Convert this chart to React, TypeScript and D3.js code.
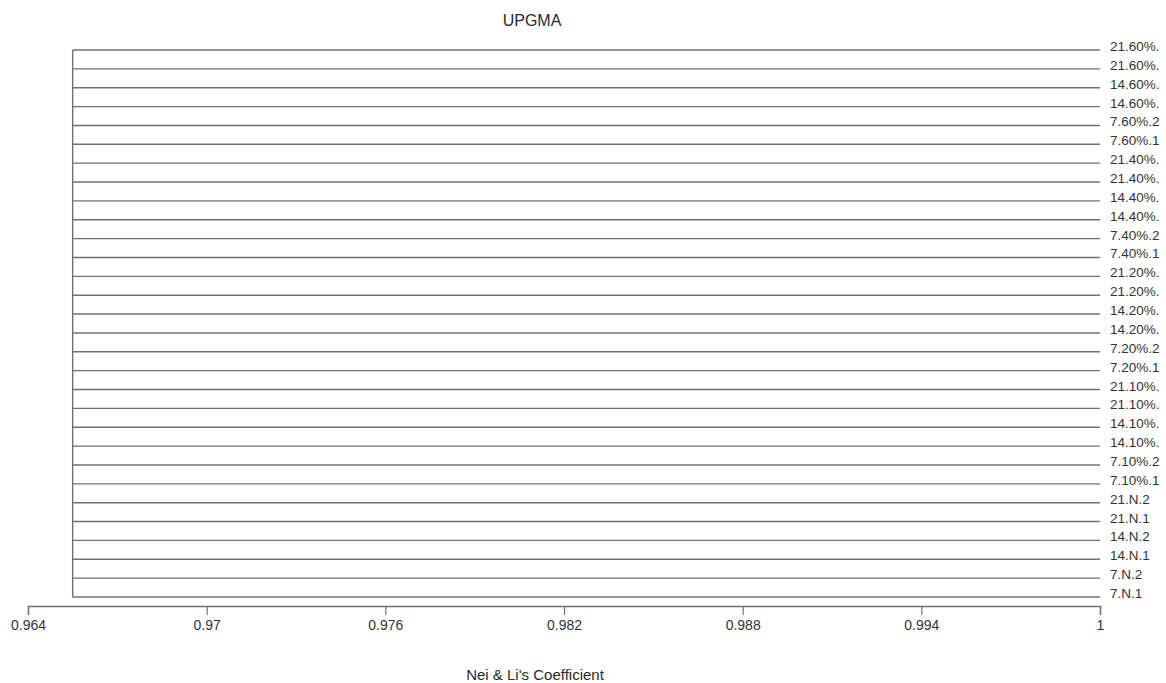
import React, { useEffect, useRef } from "react";
import * as d3 from "d3";

// leaves from top to bottom, all joined at one node
const leaves = [
  "21.60%.", "21.60%.", "14.60%.", "14.60%.", "7.60%.2", "7.60%.1",
  "21.40%.", "21.40%.", "14.40%.", "14.40%.", "7.40%.2", "7.40%.1",
  "21.20%.", "21.20%.", "14.20%.", "14.20%.", "7.20%.2", "7.20%.1",
  "21.10%.", "21.10%.", "14.10%.", "14.10%.", "7.10%.2", "7.10%.1",
  "21.N.2", "21.N.1", "14.N.2", "14.N.1", "7.N.2", "7.N.1",
];
const leafValue = 1;
const joinValue = 0.9655;
const xTicks = [0.964, 0.97, 0.976, 0.982, 0.988, 0.994, 1];

const font = "Arial, 'Liberation Sans', sans-serif";

export default function App() {
  const ref = useRef<SVGSVGElement>(null);

  useEffect(() => {
    const w = 1166, h = 683;
    const svg = d3.select(ref.current);
    svg.selectAll("*").remove();

    const x = d3.scaleLinear().domain([0.964, 1]).range([28, 1100]);
    const y = d3.scalePoint<number>().domain(d3.range(leaves.length)).range([50, 597]);
    const stroke = "#707070";

    svg.attr("width", w).attr("height", h);

    // title
    svg.append("text").attr("x", 532).attr("y", 26).attr("text-anchor", "middle")
      .style("font-family", font).style("font-size", "16px")
      .attr("fill", "#2a2a2a").text("UPGMA");

    const g = svg.append("g");
    // branches
    g.selectAll("line.leaf").data(leaves).enter().append("line")
      .attr("class", "leaf")
      .attr("x1", x(joinValue)).attr("x2", x(leafValue))
      .attr("y1", (d, i) => y(i)!).attr("y2", (d, i) => y(i)!)
      .attr("stroke", stroke).attr("stroke-width", 1.4);
    // join
    g.append("line")
      .attr("x1", x(joinValue)).attr("x2", x(joinValue))
      .attr("y1", y(0)!).attr("y2", y(leaves.length - 1)!)
      .attr("stroke", stroke).attr("stroke-width", 1.4);

    // leaf labels
    g.selectAll("text.lab").data(leaves).enter().append("text")
      .attr("class", "lab")
      .attr("x", x(leafValue) + 10).attr("y", (d, i) => y(i)! + 1)
      .style("font-family", font).style("font-size", "13.5px")
      .attr("fill", "#333").text(d => d);

    // axis
    const ax = svg.append("g").attr("transform", "translate(0,606)")
      .call(d3.axisBottom(x).tickValues(xTicks).tickFormat(d => String(+d)).tickSizeOuter(0).tickSize(9));
    ax.select(".domain").attr("stroke", stroke).attr("stroke-width", 1.4);
    ax.selectAll(".tick line").attr("stroke", stroke).attr("stroke-width", 1.2);
    ax.selectAll(".tick text").attr("fill", "#333").attr("y", 0).attr("dy", 0)
      .attr("transform", "translate(0,24)")
      .style("font-family", font).style("font-size", "14px");

    svg.append("text").attr("x", 535).attr("y", 680).attr("text-anchor", "middle")
      .style("font-family", font).style("font-size", "15px")
      .attr("fill", "#2a2a2a").text("Nei & Li's Coefficient");
  }, []);

  return (
    <div style={{ position: "absolute", left: 0, top: 0 }}>
      <svg ref={ref} />
    </div>
  );
}
